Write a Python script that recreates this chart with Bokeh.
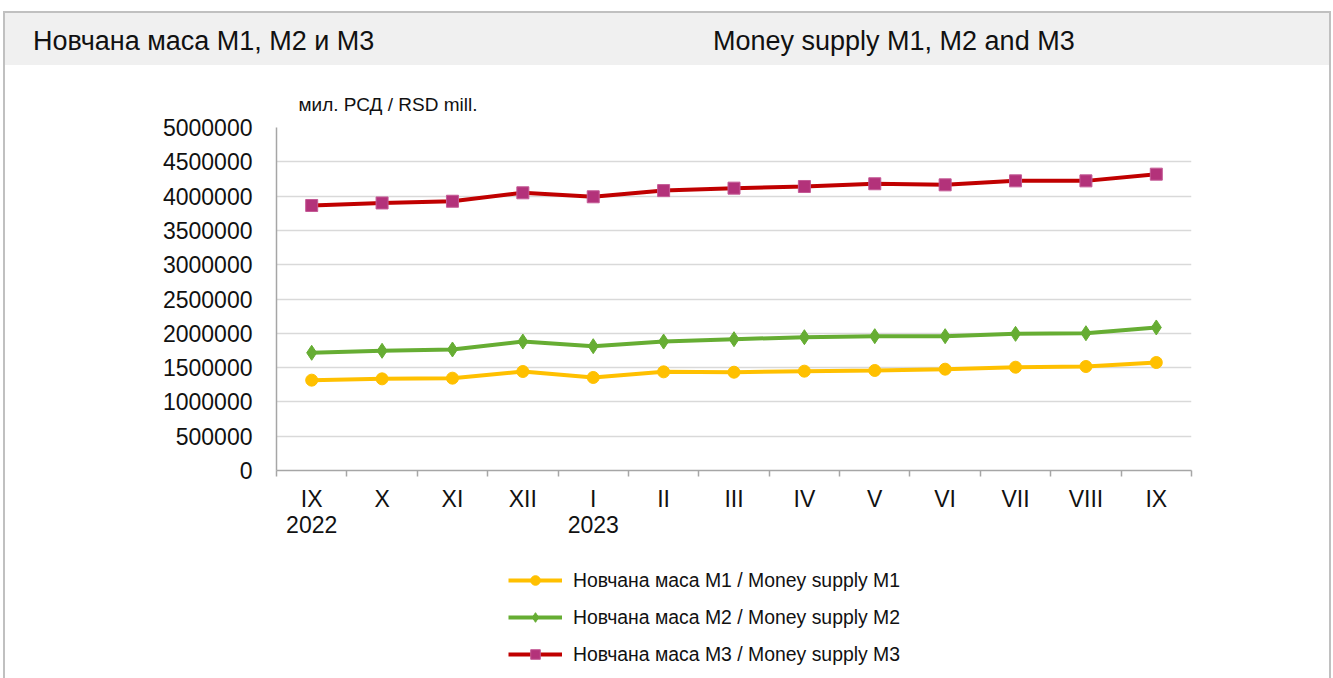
from bokeh.plotting import figure
from bokeh.models import (Range1d, FixedTicker, NumeralTickFormatter, Legend, LegendItem,
                          Title, Div, ColumnDataSource)
from bokeh.layouts import column
from bokeh.embed import file_html
from bokeh.resources import INLINE

# ---- data ----
tick_labels = ["IX\n2022", "X", "XI", "XII", "I\n2023", "II", "III", "IV", "V", "VI", "VII", "VIII", "IX"]
m1 = [1317000, 1336000, 1346000, 1443000, 1356000, 1438000, 1433000, 1448000, 1458000, 1477000, 1506000, 1516000, 1574000]
m2 = [1716000, 1745000, 1764000, 1880000, 1812000, 1880000, 1914000, 1943000, 1958000, 1958000, 1992000, 2001000, 2085000]
m3 = [3863000, 3900000, 3925000, 4048000, 3990000, 4080000, 4116000, 4140000, 4180000, 4164000, 4222000, 4222000, 4320000]
y_ticks = [0, 500000, 1000000, 1500000, 2000000, 2500000, 3000000, 3500000, 4000000, 4500000, 5000000]
names = ["Новчана маса М1 / Money supply М1",
         "Новчана маса М2 / Money supply М2",
         "Новчана маса М3 / Money supply М3"]
title_sr = "Новчана маса М1, М2 и М3"
title_en = "Money supply M1, M2 and M3"
unit = "мил. РСД / RSD mill."

FONT = "Liberation Sans"
TXT = "#111111"
idx = list(range(len(tick_labels)))
src = ColumnDataSource(dict(x=idx, m1=m1, m2=m2, m3=m3))

styles = [
    dict(col="m1", color="#FFC000", marker="circle", size=12, fill="#FFC000", mline="#FFC000"),
    dict(col="m2", color="#66AD33", marker="diamond", size=15, fill="#66AD33", mline="#66AD33"),
    dict(col="m3", color="#C00000", marker="square", size=12, fill="#B3327A", mline="#C45A96"),
]

W = 1324
p = figure(width=W, height=490, output_backend="svg", toolbar_location=None,
           x_range=Range1d(-0.5, len(idx) - 0.5), y_range=Range1d(0, 5000000),
           min_border_left=271, min_border_right=138, min_border_top=62, min_border_bottom=85,
           background_fill_color="white", border_fill_color="white", outline_line_color=None,
           margin=0)

# x axis
xa = p.xaxis[0]
xa.ticker = FixedTicker(ticks=idx, minor_ticks=[i - 0.5 for i in range(len(idx) + 1)])
xa.major_label_overrides = {i: lab for i, lab in zip(idx, tick_labels)}
xa.major_tick_out = 0
xa.major_tick_in = 0
xa.minor_tick_out = 6
xa.minor_tick_in = 0
xa.minor_tick_line_color = "#a6a6a6"
xa.minor_tick_line_width = 1.5
xa.axis_line_color = "#a6a6a6"
xa.axis_line_width = 1.5
xa.major_label_standoff = 9
xa.major_label_text_font = FONT
xa.major_label_text_font_size = "23px"
xa.major_label_text_line_height = 1.0
xa.major_label_text_color = TXT

# y axis
ya = p.yaxis[0]
ya.ticker = FixedTicker(ticks=y_ticks)
ya.formatter = NumeralTickFormatter(format="0")
ya.major_tick_out = 0
ya.major_tick_in = 0
ya.minor_tick_out = 0
ya.minor_tick_in = 0
ya.axis_line_color = "#a6a6a6"
ya.axis_line_width = 1.5
ya.major_label_standoff = 24
ya.major_label_text_font = FONT
ya.major_label_text_font_size = "23px"
ya.major_label_text_color = TXT

p.xgrid.visible = False
p.ygrid.grid_line_color = "#d9d9d9"
p.ygrid.grid_line_width = 1.5

for s in styles:
    p.line("x", s["col"], source=src, line_color=s["color"], line_width=4)
    p.scatter("x", s["col"], source=src, marker=s["marker"], size=s["size"],
              fill_color=s["fill"], line_color=s["mline"])

p.add_layout(Title(text=unit, align="left", offset=22, standoff=25,
                   text_font=FONT, text_font_size="19px", text_font_style="normal",
                   text_color=TXT), "above")

# ---- legend panel (separate figure, series drawn outside its view) ----
lg = figure(width=W, height=123, output_backend="svg", toolbar_location=None,
            x_range=Range1d(1000, 1001), y_range=Range1d(0, 1),
            min_border=0, outline_line_color=None, border_fill_color="white",
            background_fill_color="white", margin=0)
lg.axis.visible = False
lg.grid.visible = False
items = []
for s, name in zip(styles, names):
    r1 = lg.line("x", s["col"], source=src, line_color=s["color"], line_width=4)
    r2 = lg.scatter("x", s["col"], source=src, marker=s["marker"], size=s["size"],
                    fill_color=s["fill"], line_color=s["mline"])
    items.append(LegendItem(label=name, renderers=[r1, r2]))
legend = Legend(items=items, location=(232, 12), orientation="vertical",
                glyph_width=54, glyph_height=24, label_height=24, spacing=13,
                label_standoff=11, padding=0, margin=0,
                border_line_color=None, background_fill_alpha=0,
                label_text_font=FONT, label_text_font_size="19.4px", label_text_color=TXT)
lg.add_layout(legend, "center")

header = Div(text=(
    f'<div style="position:relative;width:{W}px;height:52px;background:#f0f0f0;'
    f'font-family:\'{FONT}\',Arial,sans-serif;font-size:27px;color:{TXT};white-space:nowrap;">'
    f'<span style="position:absolute;left:28px;top:9px;">{title_sr}</span>'
    f'<span style="position:absolute;left:708px;top:9px;">{title_en}</span></div>'),
    width=W, height=52, margin=0)

layout = column(header, p, lg, spacing=0, margin=0,
                styles={"margin-left": "3px", "margin-top": "11px",
                        "border-top": "2px solid #c0c0c0",
                        "border-left": "2px solid #c0c0c0",
                        "border-right": "2px solid #c0c0c0"})

open("out.html", "w").write(file_html(layout, INLINE))
